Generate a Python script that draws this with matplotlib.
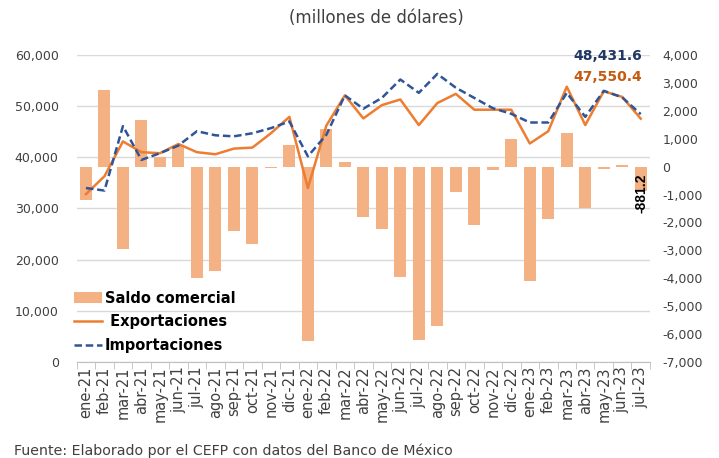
import numpy as np
import matplotlib
matplotlib.use('Agg')
import matplotlib.pyplot as plt
from matplotlib.ticker import FuncFormatter

# datos (millones de dolares)
meses = ['ene-21', 'feb-21', 'mar-21', 'abr-21', 'may-21', 'jun-21', 'jul-21', 'ago-21',
         'sep-21', 'oct-21', 'nov-21', 'dic-21', 'ene-22', 'feb-22', 'mar-22', 'abr-22',
         'may-22', 'jun-22', 'jul-22', 'ago-22', 'sep-22', 'oct-22', 'nov-22', 'dic-22',
         'ene-23', 'feb-23', 'mar-23', 'abr-23', 'may-23', 'jun-23', 'jul-23']

saldo = [-1200, 2750, -2950, 1670, 360, 740, -4000, -3740, -2310, -2770, -40, 780,
         -6250, 1340, 160, -1790, -2250, -3970, -6220, -5700, -900, -2090, -120, 990,
         -4090, -1880, 1200, -1490, -90, 50, -881.2]

exportaciones = [32800, 36300, 43100, 41000, 40800, 42600, 41000, 40600, 41700, 41900,
                 44700, 47900, 34000, 46200, 52100, 47600, 50200, 51300, 46300, 50600,
                 52400, 49300, 49300, 49300, 42700, 45100, 53800, 46300, 52900, 51800,
                 47550.4]

importaciones = [34000, 33500, 46100, 39500, 40800, 42300, 45100, 44300, 44100, 44700,
                 45700, 47000, 40200, 44400, 52100, 49500, 51600, 55200, 52600, 56300,
                 53600, 51600, 49600, 48500, 46800, 46800, 52600, 47900, 53000, 51700,
                 48431.6]

c_barra = '#F4B183'
c_exp = '#ED7D31'
c_imp = '#2F5597'
c_txt = '#404040'

plt.rcParams['font.family'] = ['DejaVu Sans']

fig = plt.figure(figsize=(7.19, 4.58), dpi=100)
ax = fig.add_axes([0.1067, 0.2096, 0.7973, 0.6704])
x = np.arange(len(meses))

# eje izquierdo (lineas) con rejilla
ax.set_ylim(0, 60000)
ax.set_yticks(np.arange(0, 60001, 10000))
ax.yaxis.set_major_formatter(FuncFormatter(lambda v, p: f'{v:,.0f}'))
ax.grid(axis='y', color='#D9D9D9', linewidth=1)
ax.set_axisbelow(True)
ax.set_xlim(-0.5, len(meses) - 0.5)
ax.set_xticks(x)
ax.set_xticklabels(meses, rotation=90, fontsize=10.5, color=c_txt)
ax.set_xticks(np.arange(-0.5, len(meses), 1), minor=True)
ax.tick_params(axis='x', which='major', length=0, pad=3)
ax.tick_params(axis='x', which='minor', length=5, color='#BFBFBF')
ax.tick_params(axis='y', length=0, labelsize=9, labelcolor=c_txt, pad=13)
for s in ['top', 'right', 'left']:
    ax.spines[s].set_visible(False)
ax.spines['bottom'].set_color('#BFBFBF')

# eje derecho (barras)
axb = ax.twinx()
barras = axb.bar(x, saldo, width=0.65, color=c_barra, label='Saldo comercial')
axb.set_ylim(-7000, 4000)
axb.set_yticks(np.arange(-7000, 4001, 1000))
axb.yaxis.set_major_formatter(FuncFormatter(lambda v, p: f'{v:,.0f}'))
axb.tick_params(axis='y', length=0, labelsize=9, labelcolor=c_txt, pad=9)
for s in axb.spines.values():
    s.set_visible(False)

# lineas encima de las barras
axl = ax.twinx()
axl.set_ylim(ax.get_ylim())
axl.set_yticks([])
for s in axl.spines.values():
    s.set_visible(False)
l1, = axl.plot(x, exportaciones, color=c_exp, linewidth=1.8, label=' Exportaciones')
l2, = axl.plot(x, importaciones, color=c_imp, linewidth=1.8, linestyle=(0, (3, 1.5)),
               label='Importaciones')

# etiquetas del ultimo dato
axl.annotate(f'{importaciones[-1]:,.1f}', (x[-1], importaciones[-1]), xytext=(x[-1] + 0.1, 59700),
             ha='right', va='center', fontsize=10, fontweight='bold', color='#203864')
axl.annotate(f'{exportaciones[-1]:,.1f}', (x[-1], exportaciones[-1]), xytext=(x[-1] + 0.1, 55600),
             ha='right', va='center', fontsize=10, fontweight='bold', color='#C55A11')
axb.text(x[-1] + 0.05, saldo[-1] * 1.07, f'{saldo[-1]:,.1f}', rotation=90, ha='center', va='center',
         fontsize=10, fontweight='bold', color='black', family='Liberation Sans')

leg = axl.legend(handles=[barras, l1, l2], loc='lower left', bbox_to_anchor=(-0.015, 0.01),
                 frameon=False, prop={'weight': 'bold', 'size': 10.5}, handlelength=1.9,
                 handletextpad=0.2, labelspacing=0.6, borderaxespad=0)

fig.text(0.524, 0.961, '(millones de dólares)', ha='center', va='center', fontsize=12, color=c_txt)
fig.text(0.02, 0.016, 'Fuente: Elaborado por el CEFP con datos del Banco de México',
         ha='left', va='center', fontsize=10.2, color=c_txt)

fig.savefig('out.png', dpi=100)
